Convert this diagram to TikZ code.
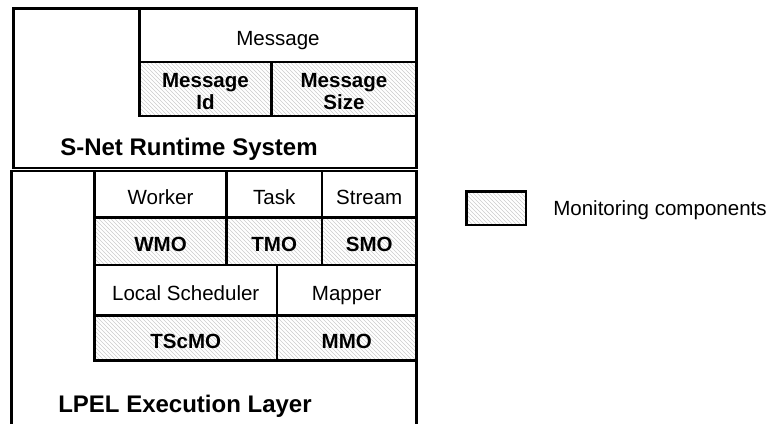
\documentclass[tikz,border=0pt]{standalone}
\usepackage{fontspec}
\setmainfont{Liberation Sans}
\usetikzlibrary{patterns}
% a framed cell: name, corners, fill style, label (set on its baseline)
\newcommand\cellbox[7]{%
  \path[frame,draw,#6] (#2,#3) rectangle (#4,#5);
  \node[label text,#6 text] (#1) at ({(#2+#4)/2},{(#3+#5)/2+10.5}) {#7};}
% the same with a two-line label (anchored on its last baseline)
\newcommand\cellboxii[7]{%
  \path[frame,draw,#6] (#2,#3) rectangle (#4,#5);
  \node[label text,#6 text] (#1) at ({(#2+#4)/2},{(#3+#5)/2+21}) {#7};}
\begin{document}
\begin{tikzpicture}[x=0.75pt,y=-0.75pt,
  frame/.style={line width=2.2pt,line join=miter},
  label text/.style={inner sep=0pt,align=center,anchor=base,
    font=\fontsize{15.4pt}{16.5pt}\selectfont},
  plain/.style={},
  plain text/.style={},
  mon/.style={pattern=north west lines,pattern color=gray!40},
  mon text/.style={font=\fontsize{15.4pt}{16.5pt}\selectfont\bfseries},
  title/.style={font=\fontsize{18pt}{21pt}\selectfont\bfseries,inner sep=0pt,anchor=base west}]
\useasboundingbox (0,0) rectangle (772,424);

% S-Net runtime system
\draw[frame] (13.5,8.5) rectangle (416.5,168);
\cellbox{msg}{139.5}{8.5}{416.5}{62}{plain}{Message}
\cellboxii{msgid}{139.5}{62}{271.5}{116}{mon}{Message\\Id}
\cellboxii{msgsize}{271.5}{62}{416.5}{116}{mon}{Message\\Size}
\node[title] (snet) at (60,156) {S-Net Runtime System};

% LPEL execution layer (open at the bottom)
\draw[frame] (11.5,430) -- (11.5,171) -- (416.5,171) -- (416.5,430);
\cellbox{worker}{94.5}{171}{226.5}{217.5}{plain}{Worker}
\cellbox{task}{226.5}{171}{322}{217.5}{plain}{Task}
\cellbox{stream}{322}{171}{416.5}{217.5}{plain}{Stream}
\cellbox{wmo}{94.5}{217.5}{226.5}{265}{mon}{WMO}
\cellbox{tmo}{226.5}{217.5}{322}{265}{mon}{TMO}
\cellbox{smo}{322}{217.5}{416.5}{265}{mon}{SMO}
\cellbox{lsched}{94.5}{265}{277}{315.5}{plain}{Local Scheduler}
\cellbox{mapper}{277}{265}{416.5}{315.5}{plain}{Mapper}
\cellbox{tscmo}{94.5}{315.5}{277}{360.5}{mon}{TScMO}
\cellbox{mmo}{277}{315.5}{416.5}{360.5}{mon}{MMO}
\node[title] (lpel) at (58,412) {LPEL Execution Layer};

% legend
\path[frame,draw,mon] (466.5,191.5) rectangle (526,225);
\node[label text,anchor=base west] (keytext) at (553,216) {Monitoring components};
\end{tikzpicture}
\end{document}
